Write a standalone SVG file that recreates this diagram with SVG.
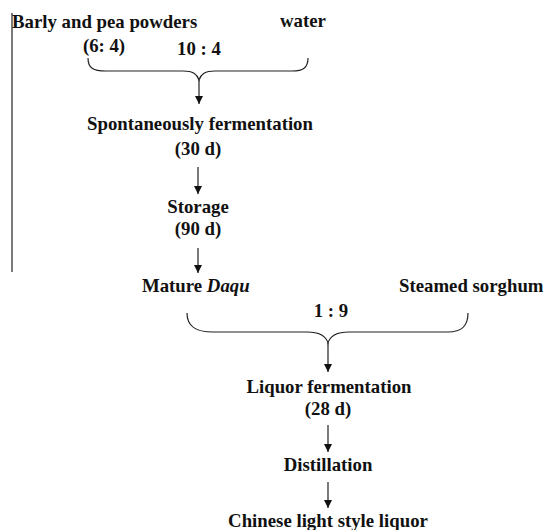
<svg xmlns="http://www.w3.org/2000/svg" width="544" height="530" viewBox="0 0 544 530">
<style>
text{font-family:"Liberation Serif","Times New Roman",serif;font-weight:bold;font-size:18.8px;fill:#111}
.c{text-anchor:middle}
.ln{fill:none;stroke:#222;stroke-width:1.2}
</style>
<defs>
<marker id="a" markerWidth="8" markerHeight="9" refX="8" refY="4" orient="auto" markerUnits="userSpaceOnUse">
<path d="M0,0 L8,4 L0,8 Z" fill="#111"/>
</marker>
</defs>
<rect width="544" height="530" fill="#fff"/>
<g id="sideline"><line class="ln" x1="12" y1="13" x2="12" y2="272"/></g>
<g id="barley"><text x="12" y="28">Barly and pea powders</text><text class="c" x="104" y="52">(6: 4)</text></g>
<g id="water"><text x="280" y="27">water</text></g>
<g id="ratio1"><text class="c" x="199" y="55">10 : 4</text></g>
<g id="spont"><text class="c" x="200" y="130">Spontaneously fermentation</text><text class="c" x="198" y="155">(30 d)</text></g>
<g id="storage"><text class="c" x="198" y="213">Storage</text><text class="c" x="198" y="235">(90 d)</text></g>
<g id="daqu"><text x="142" y="292">Mature <tspan font-style="italic">Daqu</tspan></text></g>
<g id="sorghum"><text x="399" y="292">Steamed sorghum</text></g>
<g id="ratio2"><text class="c" x="331" y="317">1 : 9</text></g>
<g id="liquorferm"><text class="c" x="329" y="393">Liquor fermentation</text><text class="c" x="328" y="415">(28 d)</text></g>
<g id="distill"><text class="c" x="328" y="471">Distillation</text></g>
<g id="product"><text class="c" x="328" y="527">Chinese light style liquor</text></g>
<g id="connectors">
<path class="ln" d="M88,58 C88,68 93,71 106,71 L183,71 C193,71 197,74 199,80 C201,74 205,71 215,71 L292,71 C303,71 308,68 308,58"/>
<path class="ln" d="M187,313 C187,326 195,332 213,332 L307,332 C320,332 326,336 328,343 C330,336 336,332 349,332 L448,332 C462,332 468,326 468,313"/>
<line class="ln" x1="199" y1="80" x2="199" y2="104" marker-end="url(#a)"/>
<line class="ln" x1="198" y1="167" x2="198" y2="194" marker-end="url(#a)"/>
<line class="ln" x1="198" y1="248" x2="198" y2="273" marker-end="url(#a)"/>
<line class="ln" x1="328" y1="343" x2="328" y2="372" marker-end="url(#a)"/>
<line class="ln" x1="328" y1="425" x2="328" y2="452" marker-end="url(#a)"/>
<line class="ln" x1="328" y1="482" x2="328" y2="508" marker-end="url(#a)"/>
</g>
</svg>
